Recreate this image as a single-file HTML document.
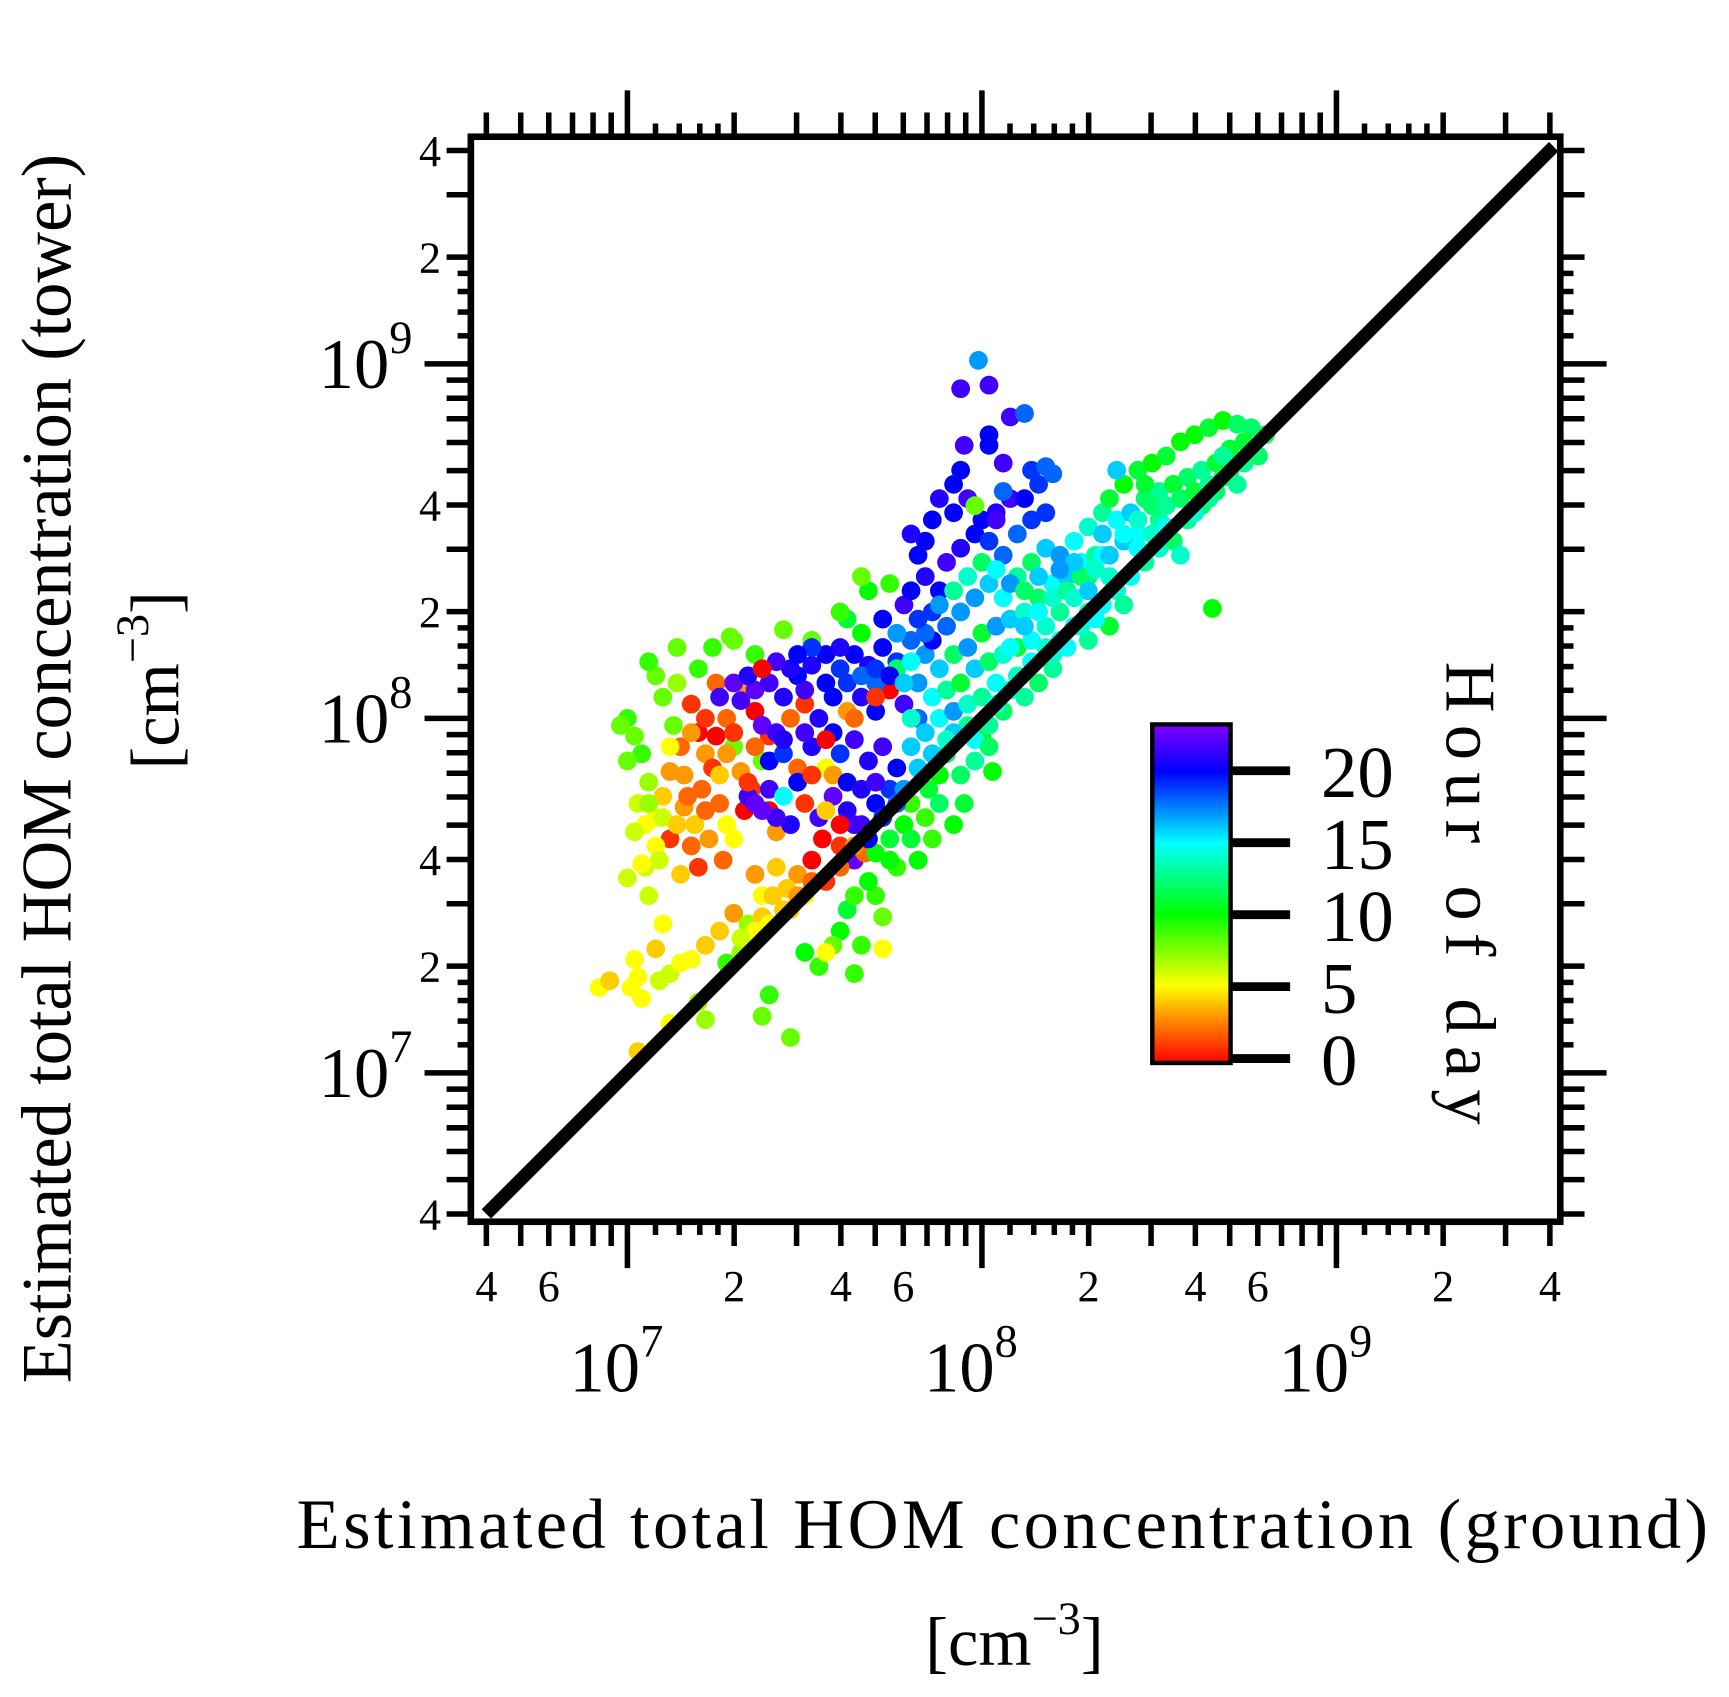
<!DOCTYPE html>
<html><head><meta charset="utf-8"><style>
html,body{margin:0;padding:0;background:#fff;}
svg{display:block;}
text{font-family:"Liberation Serif",serif;fill:#000;}
</style></head><body>
<svg id="chart" width="1729" height="1697" viewBox="0 0 1568 1539" xmlns="http://www.w3.org/2000/svg">
<defs>
<linearGradient id="cbgrad" x1="0" y1="1" x2="0" y2="0">
<stop offset="0" stop-color="#ff0000"/>
<stop offset="0.118" stop-color="#ff8000"/>
<stop offset="0.228" stop-color="#ffff00"/>
<stop offset="0.333" stop-color="#80ff00"/>
<stop offset="0.439" stop-color="#00ff00"/>
<stop offset="0.544" stop-color="#00ff80"/>
<stop offset="0.650" stop-color="#00ffff"/>
<stop offset="0.755" stop-color="#0080ff"/>
<stop offset="0.861" stop-color="#0000ff"/>
<stop offset="1" stop-color="#8000ff"/>
</linearGradient>
<clipPath id="plotclip"><rect x="430" y="127" width="982" height="978"/></clipPath>
</defs>
<g id="points" clip-path="url(#plotclip)"></g>
<g id="axes"></g>
<text x="909" y="1404" font-size="64" text-anchor="middle" textLength="1280" lengthAdjust="spacing">Estimated total HOM concentration (ground)</text>
<text x="920" y="1510" font-size="62" text-anchor="middle">[cm<tspan font-size="42" dy="-28">−3</tspan><tspan dy="28">]</tspan></text>
<text transform="translate(64,697) rotate(-90)" font-size="64" text-anchor="middle" textLength="1115" lengthAdjust="spacing">Estimated total HOM concentration (tower)</text>
<text transform="translate(162,617) rotate(-90)" font-size="62" text-anchor="middle">[cm<tspan font-size="42" dy="-28">−3</tspan><tspan dy="28">]</tspan></text>
<g>
<rect x="1045" y="657" width="71" height="307" fill="url(#cbgrad)" stroke="#000" stroke-width="4"/>
<g id="cbticks"></g>
<text transform="translate(1312,810) rotate(90)" font-size="64" text-anchor="middle" textLength="420" lengthAdjust="spacing">Hour of day</text>
</g>
</svg>
<script>
const logGround = [7.02,7.04,7.00,7.06,7.03,7.08,7.05,7.10,7.12,7.15,7.13,7.10,7.14,7.18,7.20,7.22,7.16,7.19,7.21,7.24,7.26,7.28,7.23,7.18,7.12,7.08,7.25,7.28,7.30,7.32,7.35,7.33,7.30,7.27,7.20,7.15,7.09,7.05,7.38,7.40,7.36,7.33,7.25,7.20,7.08,7.06,7.14,7.00,6.98,7.30,7.44,7.52,7.40,7.42,
7.32,7.36,7.40,7.44,7.48,7.52,7.56,7.60,7.64,7.68,7.72,7.76,7.80,7.84,7.38,7.42,7.46,7.50,7.54,7.58,7.62,7.66,7.70,7.74,7.78,7.82,7.40,7.44,7.48,7.52,7.56,7.60,7.64,7.68,7.72,7.76,7.80,7.34,7.36,7.40,7.44,7.50,7.54,7.58,7.62,7.66,7.70,7.74,7.55,7.60,7.64,7.67,7.52,7.48,7.45,7.50,7.42,7.38,7.36,7.46,
7.70,7.74,7.78,7.80,7.85,7.88,7.84,7.90,7.76,7.70,7.72,7.82,7.86,7.92,7.95,7.60,7.62,7.58,7.66,7.64,7.54,7.50,7.40,7.38,7.46,7.56,7.72,8.00,8.03,
6.92,6.95,7.01,7.04,7.03,7.09,7.12,7.15,7.18,7.22,7.26,7.30,7.08,7.10,7.06,7.00,7.04,7.20,7.22,7.12,7.02,7.28,7.32,7.34,7.38,7.41,7.03,
7.86,7.88,7.84,7.82,7.90,7.94,7.98,8.02,8.06,8.10,8.14,8.18,7.86,7.90,7.94,7.98,8.02,8.06,8.10,8.14,8.18,8.22,8.26,8.30,8.34,7.88,7.92,7.96,8.00,8.04,8.08,8.12,8.16,8.20,8.24,8.28,8.32,7.82,7.86,7.90,7.94,7.98,8.02,8.06,8.10,8.14,8.18,8.22,7.80,7.84,7.88,7.92,7.96,8.00,8.04,7.76,7.72,7.78,7.80,7.76,7.70,7.66,7.62,8.04,8.08,8.00,8.12,8.16,
8.10,8.14,8.18,8.22,8.26,8.30,8.34,8.38,8.42,8.46,8.50,8.54,8.58,8.62,8.66,8.70,8.06,8.02,7.98,8.20,8.30,8.40,8.56,8.36,
8.36,8.40,8.44,8.48,8.52,8.56,8.60,8.64,8.68,8.72,8.76,8.80,8.38,8.42,8.46,8.50,8.54,8.58,8.62,8.66,8.70,8.44,8.50,8.40,8.34,8.30,8.38,8.74,8.78,8.64,8.72,
7.84,7.86,7.80,7.92,7.88,7.96,7.92,8.06,8.14,8.18,8.20,8.04,
7.99,7.94,8.02,8.08,8.12,7.95,8.02,8.02,7.94,8.06,8.65,7.98,
7.29,7.36,7.24,7.60,7.68,7.74,7.66,
8.08,8.12,8.16,8.20,8.24,8.28,8.32,8.36,8.40,8.44,8.48,8.52,8.56,8.60,8.68,8.74,8.46,8.34,8.26,8.22,8.16,7.96,8.00,8.04,8.08,7.92,7.88,8.12,8.26,8.30,8.36,8.44,8.48,8.52,8.60,8.64,8.68,8.20,8.24,8.28,8.32,8.16,8.12,8.08,8.04,7.96,7.92,7.90,
7.46,7.50,7.58,7.62,7.66,7.70,7.74,7.78,7.80,7.84,7.82,7.70,7.64,7.56,7.50,7.44,7.48,7.52,7.58,7.62,7.66,7.70,7.64,7.68,7.60,7.56,7.46,7.42,7.38,7.34,7.36,7.30,7.28,7.26,7.22,7.16,7.12,7.10,7.06,7.02,7.14,7.17,7.22,7.18,7.26,7.30,7.34,7.42,7.38,7.56,7.60,7.52,7.48,
7.60,7.64,7.56,7.52,7.48,7.44,7.40,7.36,7.32,7.68,7.72,7.76,7.78,7.82,7.86,7.74,7.80,7.88,7.94,7.98,8.02,7.68,7.64];
const logTower = [7.95,7.90,7.88,7.82,7.76,7.72,7.70,7.78,7.85,7.92,7.98,8.06,8.10,8.04,7.96,7.90,7.75,7.70,7.80,7.86,7.76,7.70,7.66,7.64,7.66,7.64,7.95,8.00,7.92,7.85,7.80,7.74,7.66,7.60,7.58,7.56,7.60,7.58,7.88,7.95,8.02,8.08,8.10,8.14,8.12,8.16,8.20,8.00,7.98,8.22,8.25,8.22,7.74,7.68,
8.05,8.08,8.10,8.06,8.12,8.15,8.10,8.14,8.18,8.15,8.20,8.16,8.22,8.18,7.98,7.96,8.00,8.04,8.00,7.96,8.02,8.06,8.02,8.08,8.04,8.00,7.88,7.90,7.86,7.92,7.86,7.90,7.94,7.88,7.92,7.86,7.92,7.78,7.76,7.80,7.78,7.76,7.72,7.78,7.74,7.70,7.76,7.80,7.66,7.64,7.60,7.62,7.60,7.56,7.52,7.50,7.58,7.50,7.56,7.46,
7.62,7.66,7.70,7.76,7.80,7.84,7.72,7.90,7.58,7.50,7.44,7.60,7.66,7.70,7.76,7.40,7.46,7.36,7.36,7.28,7.30,7.34,7.22,7.16,7.10,7.34,7.35,7.95,7.85,
7.24,7.26,7.24,7.21,7.27,7.26,7.28,7.31,7.32,7.36,7.40,7.45,7.35,7.42,7.50,7.55,7.59,7.20,7.15,7.14,7.32,7.31,7.34,7.42,7.44,7.50,7.06,
8.30,8.36,8.40,8.46,8.44,8.48,8.52,8.50,8.46,8.52,8.56,8.58,8.22,8.26,8.30,8.34,8.38,8.34,8.40,8.44,8.48,8.46,8.50,8.54,8.58,8.14,8.18,8.20,8.24,8.26,8.28,8.30,8.34,8.38,8.40,8.44,8.46,8.10,8.06,8.08,8.10,8.14,8.16,8.18,8.20,8.22,8.26,8.30,8.00,7.96,8.00,8.02,8.04,8.06,8.10,8.24,8.28,8.32,8.36,8.14,8.10,8.24,8.28,8.58,8.62,8.56,8.62,8.66,
8.12,8.16,8.20,8.22,8.26,8.30,8.32,8.36,8.40,8.44,8.48,8.50,8.56,8.60,8.64,8.70,8.02,7.98,7.94,8.14,8.22,8.32,8.46,8.26,
8.62,8.66,8.70,8.72,8.74,8.78,8.80,8.82,8.84,8.83,8.82,8.80,8.56,8.58,8.62,8.64,8.66,8.68,8.70,8.72,8.76,8.52,8.56,8.50,8.46,8.40,8.70,8.72,8.74,8.62,8.66,
8.50,8.56,8.52,8.58,8.62,8.62,8.66,8.64,8.70,8.71,8.69,8.56,
9.01,8.93,8.94,8.85,8.86,8.77,8.80,8.77,8.70,8.72,8.31,8.60,
8.23,8.18,8.20,8.30,8.36,8.38,8.40,
8.20,8.26,8.30,8.34,8.36,8.40,8.42,8.46,8.52,8.56,8.60,8.60,8.62,8.64,8.68,8.78,8.66,8.52,8.44,8.42,8.40,8.40,8.44,8.42,8.38,8.36,8.32,8.36,8.34,8.36,8.40,8.48,8.52,8.54,8.58,8.66,8.74,8.18,8.20,8.26,8.28,8.10,8.06,8.08,8.04,7.98,7.96,7.94,
8.14,8.08,8.06,8.10,8.12,8.14,8.12,8.10,8.16,8.24,8.28,8.06,8.00,7.94,7.96,7.94,7.82,7.84,7.84,7.82,7.80,7.82,7.70,7.66,7.70,7.74,7.70,7.72,7.74,7.82,7.92,7.96,7.90,7.84,7.74,7.84,7.92,7.72,7.76,7.68,7.70,7.78,8.00,7.96,8.06,8.10,8.12,8.16,8.14,8.18,8.20,8.20,8.18,
7.58,7.64,7.54,7.54,7.50,7.46,7.42,7.40,7.38,7.66,7.72,7.76,7.80,7.86,7.90,7.60,7.66,7.76,7.84,7.88,7.92,7.54,7.50];
const hourOfDay = [8,9,8,7,6,5,5,4,3,2,8,8,7,1,0,3,3,4,2,1,2,5,3,2,1,5,0,2,8,3,1,0,5,2,1,4,6,6,8,1,0,3,2,9,8,9,8,9,8,8,8,8,0,3,
22,23,22,21,20,21,20,19,20,21,20,19,18,17,23,22,2,1,21,20,3,21,20,0,22,18,20,19,2,21,5,19,22,21,22,20,16,22,23,22,15,1,22,23,21,22,20,19,0,1,23,2,0,3,4,5,4,5,3,4,
10,11,10,9,11,10,9,12,9,9,8,10,9,10,11,10,11,8,9,9,9,10,9,8,8,5,5,10,10,
5,4,5,5,5,6,6,5,5,4,4,3,4,5,6,6,5,7,7,5,5,9,7,7,4,4,4,
19,20,21,20,22,21,20,19,18,18,19,19,20,18,17,17,16,15,13,12,16,17,15,14,13,16,12,17,11,17,16,14,12,15,16,15,13,17,15,13,11,16,12,14,11,15,14,13,14,16,15,17,14,13,15,17,20,22,20,12,18,10,11,21,22,20,20,19,
14,15,14,15,15,14,15,14,15,13,14,12,13,12,12,11,12,13,15,13,13,13,14,11,
11,10,11,10,11,10,10,11,10,12,12,12,15,16,12,13,11,12,13,11,11,15,13,16,15,12,16,13,12,13,13,
20,20,21,20,21,22,20,18,19,18,18,22,
17,22,22,22,18,22,20,20,20,22,10,8,
8,9,9,9,10,9,8,
15,16,15,14,13,12,14,16,15,14,12,13,12,11,12,11,11,16,16,17,16,14,12,15,17,13,17,12,14,16,14,15,14,15,14,13,13,14,15,14,15,12,13,14,15,13,16,14,
21,22,20,19,18,19,20,16,15,18,19,1,2,0,22,21,20,1,3,20,21,22,22,2,0,4,21,22,23,1,2,1,3,4,2,3,5,6,7,6,4,2,1,3,22,23,21,22,0,20,21,19,20,
2,3,1,2,3,4,5,5,6,20,19,18,17,16,16,10,11,12,12,13,12,10,9];
const majorLabels = ["7","8","9"];
const xMinorLabelVals = [4e6,6e6,2e7,4e7,6e7,2e8,4e8,6e8,2e9,4e9];
const yMinorLabelVals = [4e9,2e9,4e8,2e8,4e7,2e7,4e6];
const cbTickVals = [0,5,10,15,20];

const NS="http://www.w3.org/2000/svg";
const DEC=321.5;
function xs(lv){return 569+(lv-7)*DEC;}
function ys(lv){return 973-(lv-7)*DEC;}
function cbY(h){return 960-h*13.05;}
const stops=[[0,255,0,0],[2.5,255,128,0],[5,255,255,0],[7.5,128,255,0],[10,0,255,0],[12.5,0,255,128],[15,0,255,255],[17.5,0,128,255],[20,0,0,255],[24,128,0,255]];
function colorOf(h){
  for(let i=0;i<stops.length-1;i++){const a=stops[i],b=stops[i+1];
    if(h<=b[0]){const t=(h-a[0])/(b[0]-a[0]);
      return `rgb(${Math.round(a[1]+t*(b[1]-a[1]))},${Math.round(a[2]+t*(b[2]-a[2]))},${Math.round(a[3]+t*(b[3]-a[3]))})`;}}
  return "rgb(128,0,255)";
}
function mk(tag,attrs,parent){const e=document.createElementNS(NS,tag);for(const k in attrs)e.setAttribute(k,attrs[k]);parent.appendChild(e);return e;}

const pg=document.getElementById('points');
const n=Math.min(logGround.length,logTower.length,hourOfDay.length);
for(let i=0;i<n;i++){
  const c=mk('circle',{cx:xs(logGround[i]).toFixed(1),cy:ys(logTower[i]).toFixed(1),r:8.5,fill:colorOf(hourOfDay[i])},pg);
  
  
}

const ax=document.getElementById('axes');
const ln=mk('line',{x1:xs(Math.log10(4e6)),y1:ys(Math.log10(4e6)),x2:xs(Math.log10(4.1e9)),y2:ys(Math.log10(4.1e9)),stroke:'#000','stroke-width':12},ax);


const frame=mk('rect',{x:427,y:124,width:988,height:984,fill:'none',stroke:'#000','stroke-width':6},ax);



const L=427,R=1415,T=124,B=1108;
const tickVals=[];
for(let d=6;d<=9;d++){
  [1.2,1.4,1.6,1.8].forEach(m=>tickVals.push([d+Math.log10(m),12]));
  for(let m=1;m<=9;m++){tickVals.push([d+Math.log10(m),m===1?42:22]);}
}
tickVals.forEach(([lv,len])=>{
  const x=xs(lv);
  if(x>=L+5&&x<=R-5){
    const t1=mk('line',{x1:x,y1:B,x2:x,y2:B+len,stroke:'#000','stroke-width':5},ax);
    
    
    const t2=mk('line',{x1:x,y1:T,x2:x,y2:T-len,stroke:'#000','stroke-width':5},ax);
    
    
  }
  const y=ys(lv);
  if(y>=T+5&&y<=B-5){
    const t3=mk('line',{x1:L,y1:y,x2:L-len,y2:y,stroke:'#000','stroke-width':5},ax);
    
    
    const t4=mk('line',{x1:R,y1:y,x2:R+len,y2:y,stroke:'#000','stroke-width':5},ax);
    
    
  }
});
xMinorLabelVals.forEach(v=>{
  const lv=Math.log10(v);
  const t=mk('text',{x:xs(lv),y:1180,'font-size':40,'text-anchor':'middle'},ax);
  t.textContent=String(Math.round(v/Math.pow(10,Math.floor(lv))));
  
  
});
yMinorLabelVals.forEach(v=>{
  const lv=Math.log10(v);
  const t=mk('text',{x:400,y:ys(lv)+14,'font-size':40,'text-anchor':'end'},ax);
  t.textContent=String(Math.round(v/Math.pow(10,Math.floor(lv))));
  
  
});
majorLabels.forEach(e=>{
  const lv=+e;
  const tx=mk('text',{x:xs(lv)-10,y:1262,'font-size':64,'text-anchor':'middle'},ax);
  tx.innerHTML='10<tspan font-size="42" dy="-32">'+e+'</tspan>';
  
  
  const ty=mk('text',{x:374,y:ys(lv)+22,'font-size':64,'text-anchor':'end'},ax);
  ty.innerHTML='10<tspan font-size="42" dy="-32">'+e+'</tspan>';
  
  
});
const cbg=document.getElementById('cbticks');
cbTickVals.forEach(h=>{
  const y=cbY(h);
  const l=mk('line',{x1:1116,y1:y,x2:1170,y2:y,stroke:'#000','stroke-width':8},cbg);
  
  
  const t=mk('text',{x:1198,y:y+24,'font-size':66},cbg);
  t.textContent=String(h);
  
  
});
</script>
</body></html>
